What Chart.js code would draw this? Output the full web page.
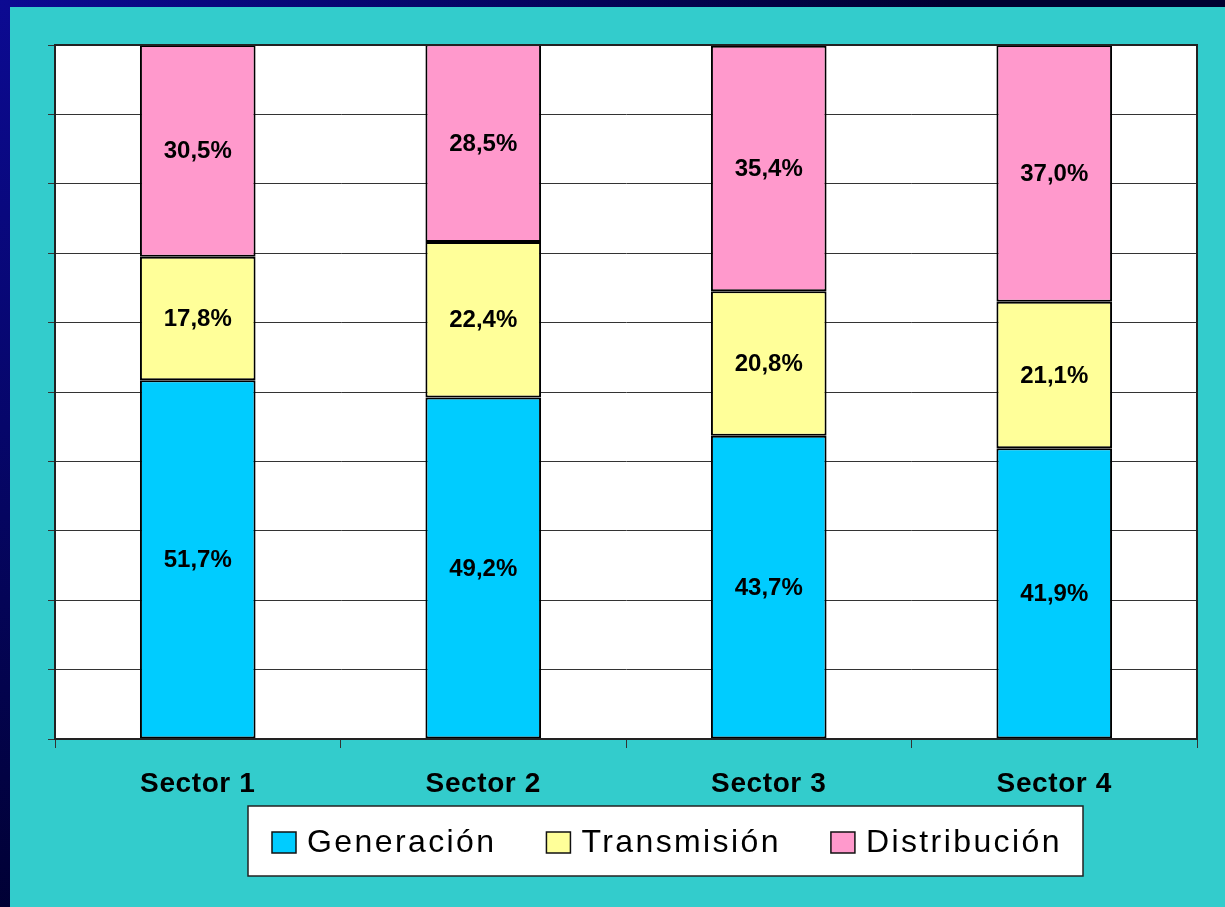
<!DOCTYPE html>
<html><head><meta charset="utf-8">
<script src="https://cdn.jsdelivr.net/npm/chart.js@4.4.1/dist/chart.umd.min.js"></script>
<style>html,body{margin:0;padding:0;overflow:hidden;background:#000040}#wrap{width:1225px;height:907px;position:relative}</style>
</head><body><div id="wrap"><canvas id="c" width="1225" height="907"></canvas></div>
<script>
const categories = ['Sector 1', 'Sector 2', 'Sector 3', 'Sector 4'];
const generacion = [51.7, 49.2, 43.7, 41.9];
const transmision = [17.8, 22.4, 20.8, 21.1];
const distribucion = [30.5, 28.5, 35.4, 37.0];
const seriesNames = ['Generación', 'Transmisión', 'Distribución'];
const seriesColors = ['#00CCFF', '#FFFF99', '#FF99CC'];

const FONT = '"Liberation Sans", Arial, sans-serif';

const bgPlugin = {
  id: 'bg',
  beforeDraw(chart) {
    const ctx = chart.ctx, w = chart.width, h = chart.height;
    ctx.save();
    const g = ctx.createRadialGradient(0, 0, 0, 0, 0, 950);
    g.addColorStop(0, '#0c0a92');
    g.addColorStop(0.45, '#06066a');
    g.addColorStop(1, '#000030');
    ctx.fillStyle = g;
    ctx.fillRect(0, 0, w, h);
    ctx.fillStyle = '#33CCCC';
    ctx.fillRect(10, 7, w - 10, h - 7);
    const a = chart.chartArea;
    ctx.fillStyle = '#FFFFFF';
    ctx.fillRect(a.left, a.top, a.right - a.left, a.bottom - a.top);
    ctx.restore();
    ctx.letterSpacing = '0.6px';
  },
  afterDatasetsDraw(chart) {
    const ctx = chart.ctx;
    ctx.save();
    ctx.letterSpacing = '0px';
    ctx.font = 'bold 24px ' + FONT;
    ctx.fillStyle = '#000';
    ctx.textAlign = 'center';
    ctx.textBaseline = 'middle';
    chart.data.datasets.forEach((ds, i) => {
      const meta = chart.getDatasetMeta(i);
      meta.data.forEach((el, j) => {
        const v = ds.data[j];
        const y = (el.y + el.base) / 2;
        ctx.fillText(v.toFixed(1).replace('.', ',') + '%', el.x, y + 1);
      });
    });
    const a = chart.chartArea;
    ctx.strokeStyle = '#222';
    ctx.lineWidth = 2;
    ctx.strokeRect(a.left, a.top, a.right - a.left, a.bottom - a.top);
    ctx.restore();
  },
  afterDraw(chart) {
    const ctx = chart.ctx;
    ctx.save();
    const bx = 248, by = 806, bw = 835, bh = 70;
    ctx.fillStyle = '#FFFFFF';
    ctx.fillRect(bx, by, bw, bh);
    ctx.strokeStyle = '#222';
    ctx.lineWidth = 1.5;
    ctx.strokeRect(bx, by, bw, bh);
    ctx.font = '32px ' + FONT;
    ctx.letterSpacing = '2.4px';
    ctx.textBaseline = 'middle';
    ctx.textAlign = 'left';
    let x = 272;
    const cy = 842;
    chart.data.datasets.forEach((ds) => {
      ctx.fillStyle = ds.backgroundColor;
      ctx.fillRect(x, cy - 10, 24, 21);
      ctx.strokeStyle = '#111';
      ctx.lineWidth = 1.5;
      ctx.strokeRect(x, cy - 10, 24, 21);
      ctx.fillStyle = '#000';
      const tx = x + 35;
      ctx.fillText(ds.label, tx, cy + 1);
      x = tx + ctx.measureText(ds.label).width + 50;
    });
    ctx.restore();
  }
};

new Chart(document.getElementById('c'), {
  type: 'bar',
  data: {
    labels: categories,
    datasets: [
      { label: seriesNames[0], data: generacion, backgroundColor: seriesColors[0] },
      { label: seriesNames[1], data: transmision, backgroundColor: seriesColors[1] },
      { label: seriesNames[2], data: distribucion, backgroundColor: seriesColors[2] }
    ].map(d => Object.assign(d, { borderColor: '#000', borderWidth: 2, borderSkipped: false, barPercentage: 0.405, categoryPercentage: 1 }))
  },
  options: {
    responsive: false,
    animation: false,
    layout: { padding: { left: 48, top: 45, right: 28, bottom: 0 } },
    plugins: { legend: { display: false }, tooltip: { enabled: false } },
    scales: {
      x: {
        stacked: true,
        afterFit: (s) => { s.height = 168; },
        border: { display: true, color: '#222', width: 2 },
        grid: { drawOnChartArea: false, drawTicks: true, tickLength: 9, color: '#333', lineWidth: 1 },
        ticks: { color: '#000', font: { family: FONT, size: 28, weight: 'bold' }, padding: 19, maxRotation: 0 }
      },
      y: {
        stacked: true,
        min: 0, max: 100,
        afterFit: (s) => { s.width = 7; },
        border: { display: true, color: '#222', width: 2 },
        grid: { color: '#333', lineWidth: 1, drawTicks: true, tickLength: 7 },
        ticks: { display: false, stepSize: 10 }
      }
    }
  },
  plugins: [bgPlugin]
});
</script></body></html>
